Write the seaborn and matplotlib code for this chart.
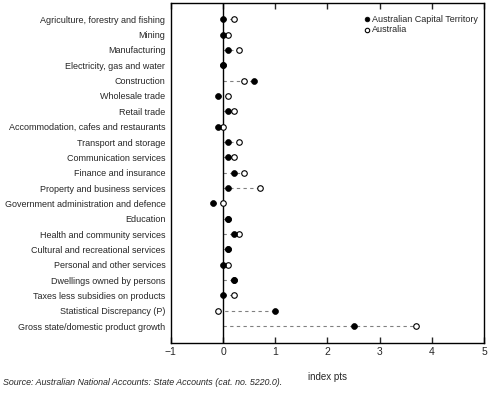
import pandas as pd
import seaborn as sns
import matplotlib.pyplot as plt

industries = [
    "Agriculture, forestry and fishing", "Mining", "Manufacturing",
    "Electricity, gas and water", "Construction", "Wholesale trade",
    "Retail trade", "Accommodation, cafes and restaurants",
    "Transport and storage", "Communication services",
    "Finance and insurance", "Property and business services",
    "Government administration and defence", "Education",
    "Health and community services", "Cultural and recreational services",
    "Personal and other services", "Dwellings owned by persons",
    "Taxes less subsidies on products", "Statistical Discrepancy (P)",
    "Gross state/domestic product growth",
]
act = [0.0, 0.0, 0.1, 0.0, 0.6, -0.1, 0.1, -0.1, 0.1, 0.1, 0.2,
       0.1, -0.2, 0.1, 0.2, 0.1, 0.0, 0.2, 0.0, 1.0, 2.5]
aus = [0.2, 0.1, 0.3, 0.0, 0.4, 0.1, 0.2, 0.0, 0.3, 0.2, 0.4,
       0.7, 0.0, 0.1, 0.3, 0.1, 0.1, 0.2, 0.2, -0.1, 3.7]

df = pd.DataFrame({"industry": industries, "act": act, "aus": aus})
df["pos"] = range(len(df))

sns.set_style("white")
plt.rcParams["font.family"] = ["Liberation Sans", "DejaVu Sans"]

fig = plt.figure(figsize=(4.91, 3.97), dpi=100)
ax = fig.add_axes([0.348, 0.136, 0.638, 0.856])

# dashed guides from zero out to the furthest point
lo = df[["act", "aus"]].min(axis=1).clip(upper=0)
hi = df[["act", "aus"]].max(axis=1).clip(lower=0)
ax.hlines(df["pos"], lo, hi, colors="#808080", linestyles=(0, (3, 3)), linewidth=0.8, zorder=1)
ax.axvline(0, color="black", linewidth=1, zorder=2)

sns.scatterplot(data=df, x="aus", y="pos", ax=ax, marker="o", s=16,
                facecolor="white", edgecolor="black", linewidth=0.8,
                label="Australia", zorder=3)
sns.scatterplot(data=df, x="act", y="pos", ax=ax, marker="o", s=18,
                color="black", edgecolor="black", linewidth=0.5,
                label="Australian Capital Territory", zorder=4)

ax.set_xlim(-1, 5)
ax.set_ylim(len(df) - 1 + 1.1, -1.05)
ax.set_xticks(range(-1, 6))
ax.set_xticklabels(["\u22121", "0", "1", "2", "3", "4", "5"], fontsize=7.5)
ax.set_yticks(df["pos"])
ax.set_yticklabels(df["industry"], fontsize=6.45)
ax.tick_params(axis="x", direction="in", length=4, top=True, bottom=True, pad=3, width=1)
ax.tick_params(axis="y", length=0, pad=4)
for s in ax.spines.values():
    s.set_visible(True)
    s.set_color("black")
    s.set_linewidth(1)
ax.set_xlabel("index pts", fontsize=7, labelpad=11)
ax.set_ylabel("")

h, l = ax.get_legend_handles_labels()
ax.legend(h[::-1], l[::-1], loc="upper right", bbox_to_anchor=(1.0, 0.985), frameon=False,
          fontsize=6.5, handletextpad=0.1, handlelength=0.8, borderaxespad=0.3,
          labelspacing=0.2, markerscale=0.8)

fig.text(0.006, 0.03, "Source: Australian National Accounts: State Accounts (cat. no. 5220.0).",
         fontsize=6.4, style="italic")

fig.savefig("out.png", dpi=100)
